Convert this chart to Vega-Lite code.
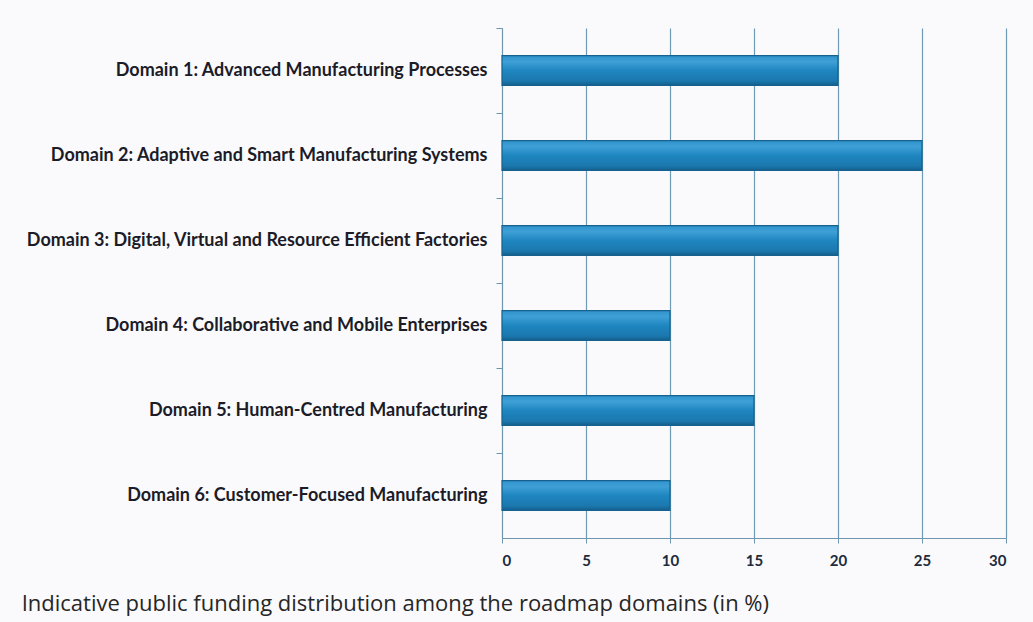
{
  "$schema": "https://vega.github.io/schema/vega-lite/v6.json",
  "autosize": {"type": "none"},
  "width": 504,
  "height": 510,
  "padding": {"left": 502, "right": 27, "top": 28, "bottom": 84},
  "background": "#fafafc",
  "title": {
    "text": "Indicative public funding distribution among the roadmap domains (in %)",
    "orient": "bottom",
    "anchor": "start",
    "frame": "bounds",
    "font": "Open Sans",
    "fontSize": 22,
    "fontWeight": 500,
    "color": "#262626",
    "offset": 26,
    "dx": -4
  },
  "data": {
    "values": [
      {"domain": "Domain 1: Advanced Manufacturing Processes", "pct": 20},
      {"domain": "Domain 2: Adaptive and Smart Manufacturing Systems", "pct": 25},
      {"domain": "Domain 3: Digital, Virtual and Resource Efficient Factories", "pct": 20},
      {"domain": "Domain 4: Collaborative and Mobile Enterprises", "pct": 10},
      {"domain": "Domain 5: Human-Centred Manufacturing", "pct": 15},
      {"domain": "Domain 6: Customer-Focused Manufacturing", "pct": 10}
    ]
  },
  "mark": {
    "type": "bar",
    "height": {"band": 0.35},
    "color": {
      "gradient": "linear",
      "x1": 0, "y1": 0, "x2": 0, "y2": 1,
      "stops": [
        {"offset": 0, "color": "#2f93cc"},
        {"offset": 0.2, "color": "#3fa0d6"},
        {"offset": 0.5, "color": "#1f86c0"},
        {"offset": 0.85, "color": "#1b78ae"},
        {"offset": 1, "color": "#135f8c"}
      ]
    },
    "stroke": "#16618e",
    "strokeWidth": 1.2
  },
  "encoding": {
    "y": {
      "field": "domain",
      "type": "nominal",
      "sort": null,
      "scale": {"paddingInner": 0, "paddingOuter": 0},
      "axis": {
        "title": null,
        "bandPosition": 0,
        "grid": false,
        "domainColor": "#6f96ad",
        "domainWidth": 1,
        "tickColor": "#6f96ad",
        "tickSize": 6,
        "labelFont": "Lato",
        "labelFontWeight": "bold",
        "labelFontSize": 18,
        "labelColor": "#1c1c28",
        "labelPadding": 9,
        "labelLimit": 500
      }
    },
    "x": {
      "field": "pct",
      "type": "quantitative",
      "scale": {"domain": [0, 30], "nice": false},
      "axis": {
        "title": null,
        "values": [0, 5, 10, 15, 20, 25, 30],
        "grid": true,
        "gridColor": "#6f9cb4",
        "gridWidth": 1.2,
        "domainColor": "#6f96ad",
        "tickColor": "#6f96ad",
        "tickSize": 5,
        "labelFont": "Lato",
        "labelFontWeight": "bold",
        "labelFontSize": 15,
        "labelColor": "#1d2b3c",
        "labelPadding": 10
      }
    }
  },
  "config": {
    "view": {"stroke": null}
  }
}
